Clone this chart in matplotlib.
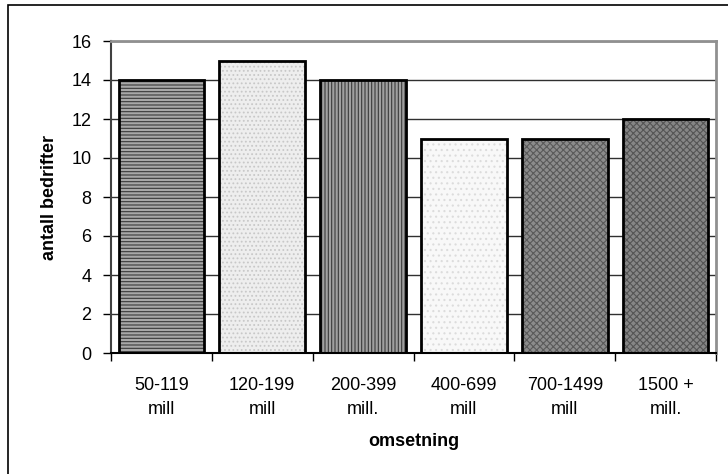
import matplotlib
matplotlib.use("Agg")
import matplotlib.pyplot as plt
from matplotlib.patches import Rectangle

categories = ["50-119\nmill", "120-199\nmill", "200-399\nmill.", "400-699\nmill", "700-1499\nmill", "1500 +\nmill."]
values = [14, 15, 14, 11, 11, 12]
y_ticks = [0, 2, 4, 6, 8, 10, 12, 14, 16]

# fill, hatch colour and hatch pattern for each bar
faces = ["#a8a8a8", "#eeeeee", "#a0a0a0", "#f8f8f8", "#8c8c8c", "#868686"]
hatch_colors = ["#3a3a3a", "#c8c8c8", "#3a3a3a", "#dcdcdc", "#5a5a5a", "#555555"]
hatches = ["-----", "....", "|||||", "...", "xxxxx", "xxxxx"]

plt.rcParams["font.family"] = ["Liberation Sans", "DejaVu Sans"]
plt.rcParams["hatch.linewidth"] = 0.8

fig = plt.figure(figsize=(7.28, 4.74), dpi=100)
fig.patches.append(Rectangle((8 / 728, -0.05), 1.0, 1 - 5 / 474 + 0.05,
                             transform=fig.transFigure, fill=False,
                             edgecolor="black", linewidth=1.2))

ax = fig.add_axes([111 / 728, 1 - 353 / 474, (716 - 111) / 728, (353 - 41) / 474])
x = list(range(len(values)))

for xi, v, f, hc, h in zip(x, values, faces, hatch_colors, hatches):
    ax.bar(xi, v, width=0.85, facecolor=f, edgecolor=hc, hatch=h, linewidth=0, zorder=2)
ax.bar(x, values, width=0.85, fill=False, edgecolor="black", linewidth=2, zorder=3)

ax.set_xlim(-0.5, len(values) - 0.5)
ax.set_ylim(0, 16)
ax.set_yticks(y_ticks)
ax.yaxis.grid(True, color="#303030", linewidth=1.0)
ax.set_axisbelow(True)

ax.set_xticks([i + 0.5 for i in range(-1, len(values))], minor=False)
ax.set_xticklabels([])
ax.set_xticks(x, minor=True)
ax.set_xticklabels(categories, minor=True, fontsize=13, linespacing=1.55)
ax.tick_params(axis="x", which="minor", length=0, pad=17)
ax.tick_params(axis="x", which="major", length=6, width=1, direction="out", color="black")
ax.tick_params(axis="y", length=6, width=1, direction="out", labelsize=13, pad=8, color="black")

for side in ["top", "right"]:
    ax.spines[side].set_color("#909090")
    ax.spines[side].set_linewidth(2)
ax.spines["left"].set_color("#404040")
ax.spines["left"].set_linewidth(1.5)
ax.spines["bottom"].set_color("black")
ax.spines["bottom"].set_linewidth(1.5)

ax.set_ylabel("antall bedrifter", fontsize=13, fontweight="bold", labelpad=10)
ax.set_xlabel("omsetning", fontsize=13, fontweight="bold", labelpad=11)

fig.savefig("out.png", dpi=100)
